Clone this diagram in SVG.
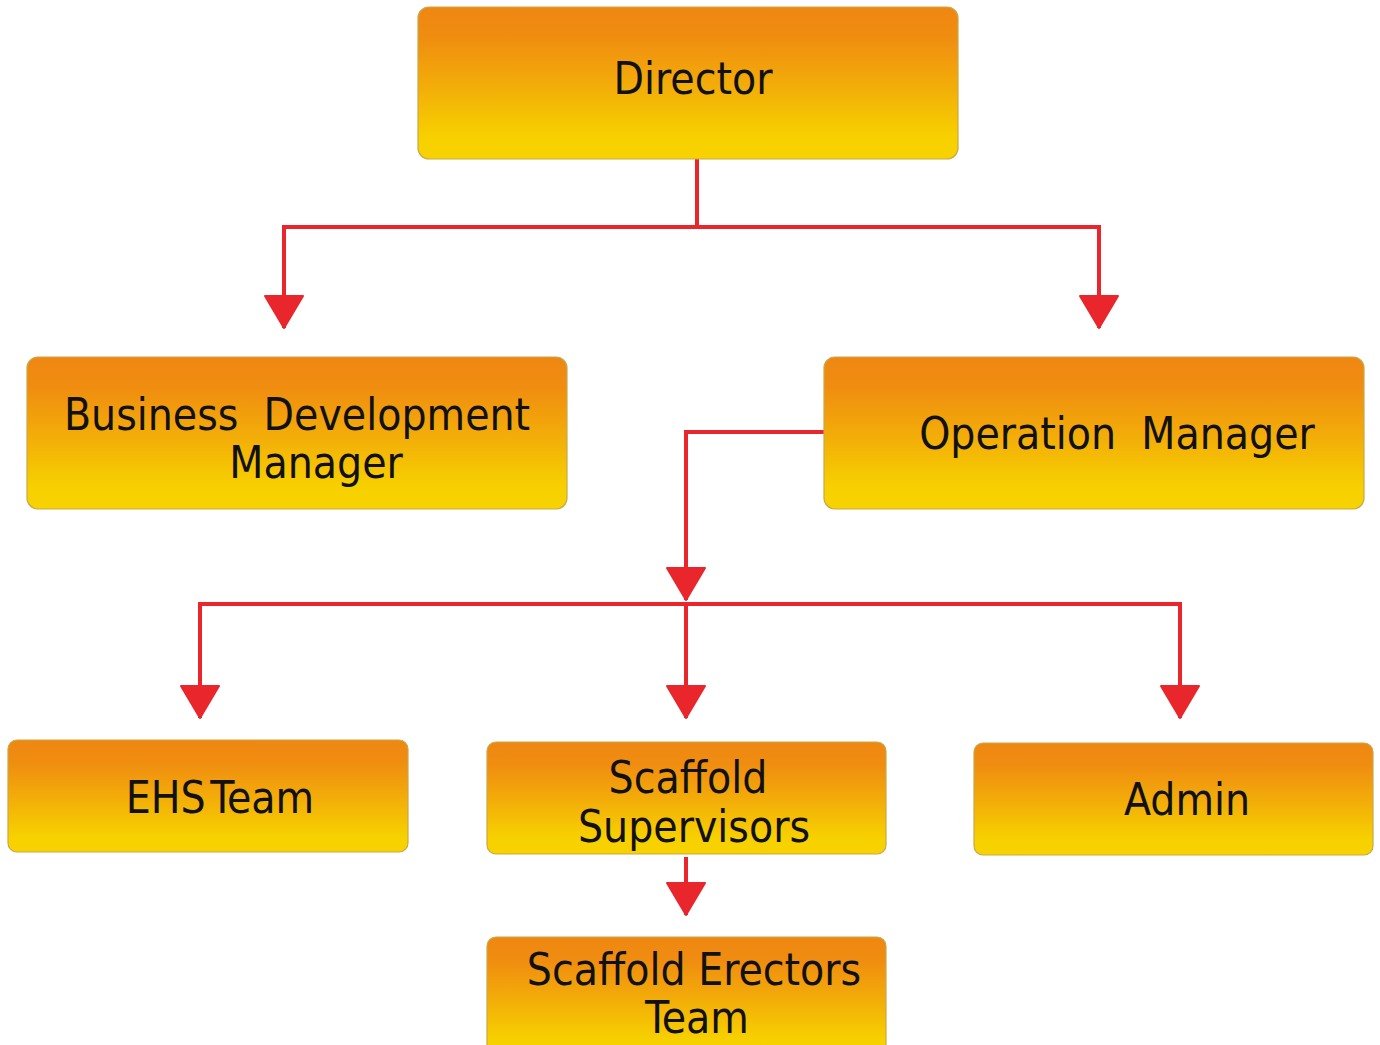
<svg xmlns="http://www.w3.org/2000/svg" width="1380" height="1045" viewBox="0 0 1380 1045">
<defs>
<linearGradient id="g" x1="0" y1="0" x2="0" y2="1">
<stop offset="0" stop-color="#EF8712"/>
<stop offset="0.2" stop-color="#F08D10"/>
<stop offset="0.55" stop-color="#F3B008"/>
<stop offset="0.85" stop-color="#F7D000"/>
<stop offset="1" stop-color="#F7D300"/>
</linearGradient>
<marker id="ah" markerUnits="userSpaceOnUse" markerWidth="36" markerHeight="42" viewBox="0 0 36 42" refX="33" refY="21" orient="auto">
<path d="M1,2 L33,21 L1,40 z" fill="#E8262C" stroke="#E8262C" stroke-width="2" stroke-linejoin="round"/>
</marker>
<style>
.box{fill:url(#g);stroke:#C9A848;stroke-width:1.2}
.t{font-family:"DejaVu Sans Condensed","DejaVu Sans",sans-serif;font-stretch:condensed;font-size:44px;fill:#111;text-anchor:middle}
.c{fill:none;stroke:#E8262C;stroke-width:4;marker-end:url(#ah)}
.cn{fill:none;stroke:#E8262C;stroke-width:4}
</style>
</defs>
<g id="connectors">
<path class="cn" d="M697,159 V227"/>
<path class="c" d="M697,227 H284 V328"/>
<path class="c" d="M697,227 H1099 V328"/>
<path class="c" d="M824,432 H686 V600"/>
<path class="c" d="M686,604 H200 V718"/>
<path class="c" d="M686,604 H1180 V718"/>
<path class="c" d="M686,604 V718"/>
<path class="c" d="M686,857 V915"/>
</g>
<g id="director">
<rect class="box" x="418" y="7" width="540" height="152" rx="11"/>
<text class="t" x="693" y="94">Director</text>
</g>
<g id="bdm">
<rect class="box" x="27" y="357" width="540" height="152" rx="11"/>
<text class="t" x="297" y="430" xml:space="preserve">Business  Development</text>
<text class="t" x="316" y="478">Manager</text>
</g>
<g id="om">
<rect class="box" x="824" y="357" width="540" height="152" rx="11"/>
<text class="t" x="1117" y="449" xml:space="preserve">Operation  Manager</text>
</g>
<g id="ehs">
<rect class="box" x="8" y="740" width="400" height="112" rx="9"/>
<text class="t" x="220" y="813" word-spacing="-8">EHS Team</text>
</g>
<g id="supervisors">
<rect class="box" x="487" y="742" width="399" height="112" rx="9"/>
<text class="t" x="688" y="793">Scaffold</text>
<text class="t" x="694" y="842">Supervisors</text>
</g>
<g id="admin">
<rect class="box" x="974" y="743" width="399" height="112" rx="9"/>
<text class="t" x="1187" y="815">Admin</text>
</g>
<g id="erectors">
<rect class="box" x="487" y="937" width="399" height="120" rx="9"/>
<text class="t" x="694" y="985">Scaffold Erectors</text>
<text class="t" x="697" y="1033">Team</text>
</g>
</svg>
